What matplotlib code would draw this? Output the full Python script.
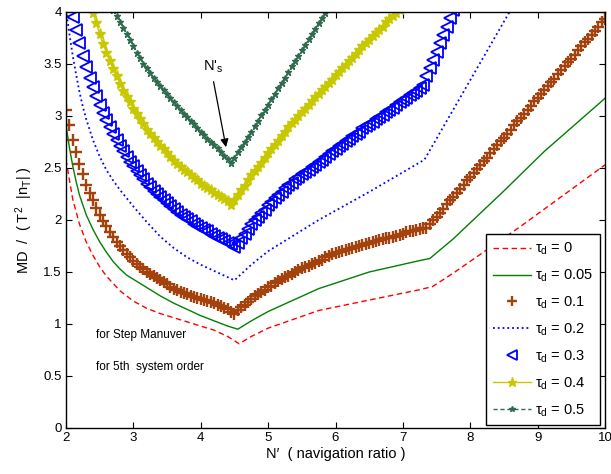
import numpy as np
import matplotlib
matplotlib.use("Agg")
import matplotlib.pyplot as plt
from matplotlib.ticker import FuncFormatter

plt.rcParams['font.family'] = ['Liberation Sans', 'DejaVu Sans']
plt.rcParams['mathtext.fontset'] = 'custom'
plt.rcParams['mathtext.rm'] = 'Liberation Sans'
plt.rcParams['mathtext.it'] = 'Liberation Sans'
plt.rcParams['mathtext.bf'] = 'Liberation Sans:bold'

# ---------------- data ----------------
labels = [r'$\tau_{\mathrm{d}}$ = 0', r'$\tau_{\mathrm{d}}$ = 0.05', r'$\tau_{\mathrm{d}}$ = 0.1',
          r'$\tau_{\mathrm{d}}$ = 0.2', r'$\tau_{\mathrm{d}}$ = 0.3', r'$\tau_{\mathrm{d}}$ = 0.4',
          r'$\tau_{\mathrm{d}}$ = 0.5']

tau0_N = [2.0, 2.1, 2.2, 2.3, 2.4, 2.5, 2.6, 2.7, 2.8, 2.9, 3.0, 3.2, 3.4, 3.6, 3.8, 4.0, 4.2, 4.4,
          4.57, 4.75, 5.0, 5.75, 6.5, 7.25, 7.44, 7.75, 8.75, 10.0]
tau0_v = [2.58, 2.20, 1.96, 1.79, 1.66, 1.55, 1.46, 1.39, 1.32, 1.27, 1.22, 1.15, 1.10, 1.06, 1.02, 0.98,
          0.94, 0.88, 0.81, 0.88, 0.96, 1.13, 1.23, 1.33, 1.36, 1.49, 1.94, 2.53]

tau005_N = [2.0, 2.05, 2.1, 2.15, 2.2, 2.3, 2.4, 2.5, 2.6, 2.7, 2.8, 2.9, 3.0, 3.2, 3.4, 3.6, 3.8, 4.0,
            4.2, 4.4, 4.55, 4.75, 5.0, 5.75, 6.5, 7.25, 7.4, 7.75, 8.5, 9.1, 10.0]
tau005_v = [2.91, 2.70, 2.52, 2.37, 2.24, 2.05, 1.91, 1.79, 1.69, 1.60, 1.53, 1.47, 1.43, 1.35, 1.27,
            1.20, 1.14, 1.08, 1.03, 0.98, 0.95, 1.03, 1.12, 1.34, 1.50, 1.61, 1.63, 1.82, 2.28, 2.66, 3.17]

tau02_N = [2.0, 2.05, 2.1, 2.15, 2.2, 2.25, 2.3, 2.4, 2.5, 2.6, 2.7, 2.8, 2.9, 3.0, 3.2, 3.4, 3.6, 3.8,
           4.0, 4.2, 4.4, 4.5, 4.75, 5.0, 5.75, 6.5, 7.32, 8.6]
tau02_v = [4.02, 3.79, 3.58, 3.40, 3.23, 3.09, 2.97, 2.77, 2.61, 2.48, 2.38, 2.29, 2.21, 2.13, 1.98,
           1.84, 1.73, 1.64, 1.57, 1.51, 1.45, 1.42, 1.57, 1.70, 2.00, 2.27, 2.58, 4.02]

# marker series sampled every 0.05 in N'
N_step = 0.05

tau01_start = 2.00
tau01_v = [3.06, 2.91, 2.77, 2.65, 2.54, 2.44, 2.34, 2.26, 2.19, 2.12,
           2.05, 1.99, 1.94, 1.88, 1.84, 1.79, 1.75, 1.71, 1.67, 1.64,
           1.61, 1.58, 1.55, 1.53, 1.50, 1.48, 1.46, 1.44, 1.42, 1.40,
           1.38, 1.36, 1.34, 1.33, 1.31, 1.30, 1.29, 1.27, 1.26, 1.25,
           1.24, 1.23, 1.22, 1.21, 1.20, 1.18, 1.17, 1.15, 1.14, 1.12,
           1.10,
           1.13, 1.16, 1.18, 1.21, 1.24, 1.27, 1.29, 1.31, 1.33, 1.36,
           1.37, 1.39, 1.41, 1.43, 1.45, 1.46, 1.48, 1.50, 1.52, 1.54,
           1.55, 1.56, 1.58, 1.59, 1.61, 1.62, 1.64, 1.65, 1.67, 1.68,
           1.69, 1.70, 1.71, 1.72, 1.73, 1.74, 1.75, 1.76, 1.77, 1.78,
           1.79, 1.80, 1.81, 1.82, 1.83, 1.83, 1.84, 1.85, 1.86, 1.87,
           1.88, 1.89, 1.89, 1.90, 1.91, 1.92, 1.92,
           1.96, 2.00, 2.03, 2.07, 2.11, 2.15, 2.19, 2.22, 2.26, 2.30, 2.34, 2.38,
           2.41, 2.45, 2.49, 2.53, 2.57, 2.60, 2.64, 2.68, 2.72, 2.76,
           2.79, 2.83, 2.87, 2.91, 2.95, 2.98, 3.02, 3.06, 3.10, 3.14,
           3.17, 3.21, 3.25, 3.29, 3.33, 3.36, 3.40, 3.44, 3.48, 3.52,
           3.55, 3.59, 3.63, 3.67, 3.71, 3.74, 3.78, 3.82, 3.86, 3.90,
           3.93]

tau03_start = 2.10
tau03_v = [3.95, 3.83, 3.70, 3.58, 3.47, 3.37, 3.28, 3.19,
           3.11, 3.03, 2.96, 2.89, 2.83, 2.77, 2.71, 2.66, 2.61, 2.56,
           2.52, 2.47, 2.43, 2.39, 2.35, 2.32, 2.28, 2.25, 2.22, 2.19,
           2.16, 2.13, 2.11, 2.08, 2.05, 2.03, 2.01, 1.99, 1.96, 1.94,
           1.92, 1.90, 1.89, 1.87, 1.85, 1.83, 1.82, 1.80, 1.78, 1.77,
           1.74,
           1.78, 1.83, 1.87, 1.91, 1.96, 2.00, 2.03, 2.07, 2.10, 2.14,
           2.17, 2.21, 2.24, 2.27, 2.31, 2.34, 2.36, 2.39, 2.41, 2.44,
           2.46, 2.48, 2.51, 2.53, 2.56, 2.58, 2.61, 2.63, 2.66, 2.68,
           2.71, 2.73, 2.76, 2.78, 2.81, 2.83, 2.85, 2.88, 2.90, 2.92,
           2.94, 2.97, 2.99, 3.01, 3.04, 3.06, 3.08, 3.11, 3.13, 3.15,
           3.17, 3.20, 3.22, 3.24, 3.27, 3.30,
           3.38, 3.46, 3.54, 3.62, 3.70, 3.78, 3.86, 3.94, 4.02]

tau04_start = 2.35
tau04_v = [4.11, 3.99, 3.89,
           3.79, 3.69, 3.61, 3.53, 3.45, 3.38, 3.31, 3.24, 3.18, 3.13,
           3.07, 3.02, 2.97, 2.92, 2.87, 2.83, 2.79, 2.75, 2.71, 2.68,
           2.64, 2.61, 2.57, 2.54, 2.51, 2.48, 2.46, 2.43, 2.40, 2.38,
           2.35, 2.33, 2.31, 2.29, 2.26, 2.24, 2.22, 2.20, 2.18, 2.14,
           2.19, 2.24, 2.29, 2.33, 2.38, 2.43, 2.47, 2.51, 2.55, 2.60,
           2.64, 2.68, 2.72, 2.76, 2.81, 2.85, 2.89, 2.93, 2.96, 3.00,
           3.04, 3.07, 3.11, 3.14, 3.18, 3.21, 3.25, 3.28, 3.32, 3.35,
           3.39, 3.42, 3.46, 3.49, 3.53, 3.56, 3.60, 3.63, 3.67, 3.70,
           3.73, 3.77, 3.80, 3.83, 3.86, 3.90, 3.93, 3.96, 3.99, 4.02]

tau05_start = 2.70
tau05_v = [4.02, 3.96, 3.90, 3.85, 3.79, 3.73,
           3.67, 3.61, 3.56, 3.50, 3.46, 3.41, 3.37, 3.33, 3.29, 3.25,
           3.21, 3.17, 3.13, 3.10, 3.06, 3.02, 2.99, 2.95, 2.92, 2.88,
           2.85, 2.82, 2.78, 2.75, 2.72, 2.69, 2.65, 2.62, 2.59, 2.55,
           2.60, 2.65, 2.70, 2.75, 2.80, 2.85, 2.90, 2.95, 3.01, 3.06,
           3.11, 3.16, 3.21, 3.27, 3.32, 3.37, 3.42, 3.48, 3.53, 3.58,
           3.63, 3.68, 3.74, 3.79, 3.84, 3.89, 3.94, 3.99, 4.04]

x_ticks = [2, 3, 4, 5, 6, 7, 8, 9, 10]
y_ticks = [0, 0.5, 1, 1.5, 2, 2.5, 3, 3.5, 4]


def grid(start, vals):
    return np.round(start + N_step * np.arange(len(vals)), 2)


# ---------------- figure ----------------
fig = plt.figure(figsize=(6.11, 4.74), dpi=100)
ax = fig.add_axes([66 / 611, 1 - 428 / 474, (605 - 66) / 611, (428 - 12) / 474])

ax.plot(tau0_N, tau0_v, color='#ff0000', ls='--', lw=1.0, dashes=(4, 2.5), label=labels[0])
ax.plot(tau005_N, tau005_v, color='#008000', ls='-', lw=1.0, label=labels[1])
ax.plot(grid(tau01_start, tau01_v), tau01_v, color='#a3420c', ls='none', marker='+', ms=8.5, mew=1.7,
        label=labels[2])
ax.plot(tau02_N, tau02_v, color='#0000ff', ls=':', lw=1.3, label=labels[3])
ax.plot(grid(tau03_start, tau03_v), tau03_v, color='#0000ff', ls='none', marker='<', ms=8.5, mfc='none',
        mew=1.3, label=labels[4])
ax.plot(grid(tau04_start, tau04_v), tau04_v, color='#c8c800', ls='-', lw=1.0, marker='*', ms=8,
        label=labels[5])
ax.plot(grid(tau05_start, tau05_v), tau05_v, color='#2e6b4f', ls='--', lw=1.0, dashes=(3, 2),
        marker='*', ms=4.5, label=labels[6])

ax.set_xlim(2, 10)
ax.set_ylim(0, 4)
ax.set_xticks(x_ticks)
ax.set_yticks(y_ticks)
ax.yaxis.set_major_formatter(FuncFormatter(lambda v, p: '%g' % v))
ax.tick_params(direction='in', length=4, width=0.8, top=True, right=True, labelsize=9.5, pad=3)
for s in ax.spines.values():
    s.set_linewidth(1.0)

ax.set_xlabel('N\u2032  ( navigation ratio )', fontsize=10.5, labelpad=2)
ax.set_ylabel(r'MD  /  ( T$^2$  |n$_{\mathrm{T}}$| )', fontsize=10.5, labelpad=6)

ax.text(2.45, 0.89, 'for Step Manuver', fontsize=8.5, va='center', ha='left')
ax.text(2.45, 0.59, 'for 5th  system order', fontsize=8.5, va='center', ha='left')

ax.annotate('', xy=(4.375, 2.70), xytext=(4.19, 3.33),
            arrowprops=dict(arrowstyle='-|>', color='black', lw=0.9, mutation_scale=12,
                            shrinkA=0, shrinkB=0))
ax.text(4.19, 3.47, r"N$'_{\mathrm{s}}$", fontsize=10.5, ha='center', va='center')

leg = ax.legend(loc='lower right', bbox_to_anchor=(0.991, 0.007), borderaxespad=0,
                fontsize=10.5, handlelength=2.6, handletextpad=0.3, labelspacing=0.72,
                borderpad=0.45, fancybox=False, framealpha=1, edgecolor='black',
                markerscale=0.85)
leg.get_frame().set_linewidth(1.0)

fig.savefig('out.png', dpi=100)
